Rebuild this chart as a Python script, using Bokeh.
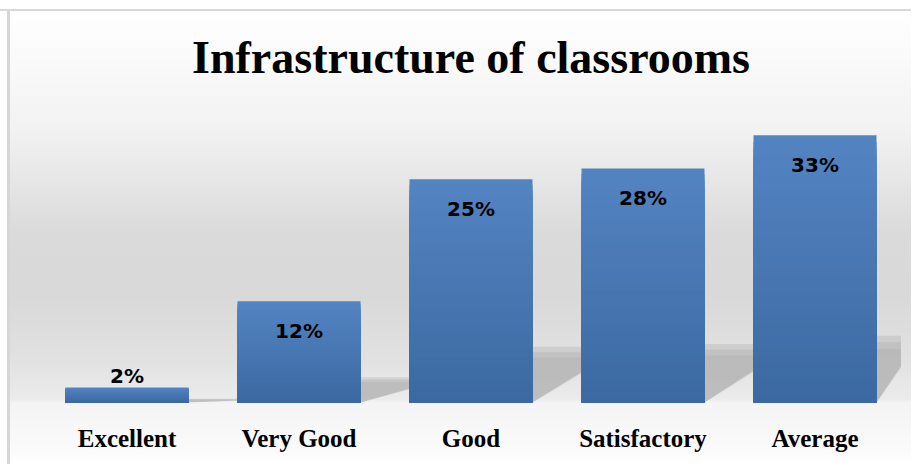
import numpy as np
from bokeh.plotting import figure
from bokeh.models import Range1d, LinearAxis, FixedTicker, Label, ColumnDataSource
from bokeh.embed import file_html
from bokeh.resources import INLINE

# ---- data ----
categories = ["Excellent", "Very Good", "Good", "Satisfactory", "Average"]
bar_values = [1.8, 12.2, 26.9, 28.2, 32.2]        # bar heights
value_labels = ["2%", "12%", "25%", "28%", "33%"]  # printed labels
title_text = "Infrastructure of classrooms"

# ---- layout constants (pixels, element coordinates) ----
W, H = 911, 464
FLOOR_PX = 402          # y of bar baseline
PXU = 8.3               # pixels per value unit
PITCH = 172.0           # px between category centres
FIRST_CX = 126.5        # x of first category centre
BAR_W = 0.715
TITLE_BASELINE_PX = 57

frame_h = FLOOR_PX
x0 = (0 - FIRST_CX) / PITCH
x1 = (W - FIRST_CX) / PITCH

bg = ("linear-gradient(to bottom, #ffffff 0px, #ffffff 9px, #d9d9d9 9px, #d9d9d9 11px, rgba(255,255,255,0) 11px), "
      "linear-gradient(to right, #ffffff 0px, #ffffff 7px, #d6d6d6 7px, #d6d6d6 10px, rgba(255,255,255,0) 10px), "
      "linear-gradient(to bottom, #ffffff 11px, #f2f2f2 130px, #dadada 233px, #d9d9d9 298px, "
      "#e1e1e1 358px, #ebebeb 399px, #f4f4f4 403px, #fafafa 448px, #ffffff 464px)")

p = figure(width=W, height=H, output_backend="svg", toolbar_location=None,
           x_range=Range1d(x0, x1), y_range=Range1d(0, frame_h / PXU),
           x_axis_type=None, y_axis_type=None, title_location=None,
           min_border_left=0, min_border_right=0, min_border_top=0,
           min_border_bottom=H - frame_h,
           background_fill_color=None, border_fill_color=None,
           outline_line_color=None,
           styles={"background": bg})
p.xgrid.visible = False
p.ygrid.visible = False

xs = np.arange(len(categories), dtype=float)
vals = np.array(bar_values)

# ---- soft shadows behind-right of bars ----
sw = 1.0 - BAR_W
last_edge = len(categories) - 0.5
layers = [(1.0, 0.55, "#a5a5a5", 0.3), (0.9, 0.6, "#a0a0a0", 0.28), (0.8, 0.65, "#9c9c9c", 0.2)]
for top_f, right_f, col, alpha in layers:
    sxs, sys_ = [], []
    for x, v in zip(xs, vals):
        xr = x + BAR_W / 2
        xe = min(xr + sw, last_edge)
        hs = v * 0.25
        sxs.append([xr, xr, xe, xe, xr])
        sys_.append([0, hs * top_f, hs * top_f, hs * right_f * top_f, 0])
    p.patches(sxs, sys_, fill_color=col, fill_alpha=alpha, line_color=None)

# ---- bars with vertical gradient (overlapping bands, light top -> dark bottom) ----
top_rgb = np.array([0x53, 0x84, 0xc2])
bot_rgb = np.array([0x3c, 0x69, 0xa1])
N = 40
for k in range(N):
    frac = 1 - k / N
    c = top_rgb + (bot_rgb - top_rgb) * (k / (N - 1))
    col = "#%02x%02x%02x" % tuple(int(round(t)) for t in c)
    p.vbar(x=xs, width=BAR_W, bottom=0, top=vals * frac, fill_color=col, line_color=None)

# ---- value labels ----
ly = np.where(vals < 5, vals + 12 / PXU, vals - 30 / PXU)
src = ColumnDataSource(dict(x=xs, y=ly, t=value_labels))
p.text(x="x", y="y", text="t", source=src, text_align="center", text_baseline="middle",
       text_font={"value": "DejaVu Sans"}, text_font_style="bold", text_font_size="20px",
       text_color="#000000")

# ---- title ----
p.add_layout(Label(x=(len(categories) - 1) / 2, y=(FLOOR_PX - TITLE_BASELINE_PX) / PXU,
                   text=title_text, text_align="center", text_baseline="alphabetic",
                   text_font="Liberation Serif", text_font_style="bold",
                   text_font_size="46px", text_color="#000000"))

# ---- category axis ----
ax = LinearAxis(ticker=FixedTicker(ticks=list(range(len(categories)))),
                major_label_overrides={i: c for i, c in enumerate(categories)})
ax.axis_line_color = None
ax.major_tick_line_color = None
ax.minor_tick_line_color = None
ax.major_label_standoff = 16
ax.major_label_text_font = "Liberation Serif"
ax.major_label_text_font_style = "bold"
ax.major_label_text_font_size = "25px"
ax.major_label_text_color = "#000000"
p.add_layout(ax, "below")

open("out.html", "w").write(file_html(p, INLINE))
